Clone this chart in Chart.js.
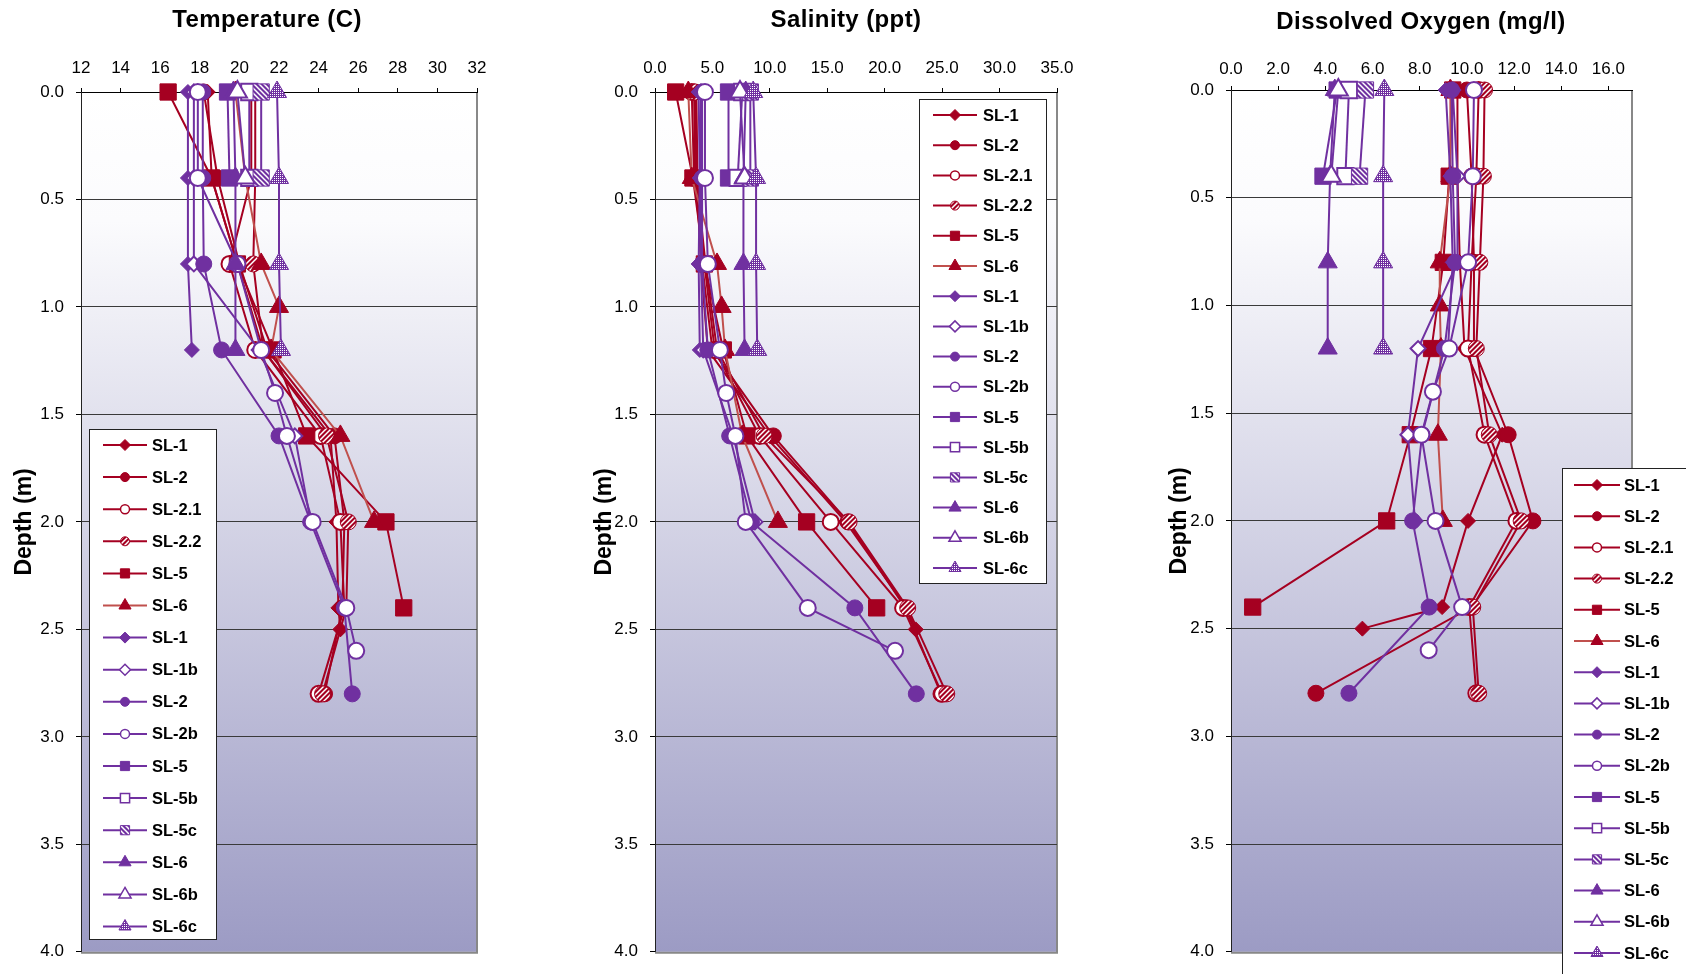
<!DOCTYPE html>
<html><head><meta charset="utf-8">
<script src="https://cdn.jsdelivr.net/npm/chart.js"></script>
<style>
html,body{margin:0;padding:0;background:#fff;width:1686px;height:974px;overflow:hidden}
canvas{position:absolute;top:0}
</style></head><body>
<canvas id="c1" width="560" height="974" style="left:0px"></canvas>
<canvas id="c2" width="560" height="974" style="left:580px"></canvas>
<canvas id="c3" width="531" height="974" style="left:1155px"></canvas>
<script>
// ---------- DATA ----------
const SERIES_LABELS = ['SL-1','SL-2','SL-2.1','SL-2.2','SL-5','SL-6','SL-1','SL-1b','SL-2','SL-2b','SL-5','SL-5b','SL-5c','SL-6','SL-6b','SL-6c'];
const Y_TICKS = [0,0.5,1,1.5,2,2.5,3,3.5,4];

// depths (m) per series
const DEPTH_R_SL1  = [0,0.4,0.8,1.2,1.6,2.0,2.4,2.5];
const DEPTH_R_SL2  = [0,0.4,0.8,1.2,1.6,2.0,2.4,2.8];
const DEPTH_R_SL21 = [0,0.4,0.8,1.2,1.6,2.0,2.4,2.8];
const DEPTH_R_SL22 = [0,0.4,0.8,1.2,1.6,2.0,2.4,2.8];
const DEPTH_R_SL5  = [0,0.4,0.8,1.2,1.6,2.0,2.4];
const DEPTH_R_SL6  = [0,0.4,0.8,1.0,1.2,1.6,2.0];
const DEPTH_P_SL1  = [0,0.4,0.8,1.2];
const DEPTH_P_SL1b = [0,0.4,0.8,1.2,1.6,2.0];
const DEPTH_P_SL2  = [0,0.4,0.8,1.2,1.6,2.0,2.4,2.8];
const DEPTH_P_SL2b = [0,0.4,0.8,1.2,1.4,1.6,2.0,2.4,2.6];
const DEPTH_P_SL5  = [0,0.4];
const DEPTH_P_SL5b = [0,0.4];
const DEPTH_P_SL5c = [0,0.4];
const DEPTH_P_SL6  = [0,0.4,0.8,1.2];
const DEPTH_P_SL6b = [0,0.4];
const DEPTH_P_SL6c = [0,0.4,0.8,1.2];

// Temperature (C)
const TEMP_R_SL1  = [18.4,18.6,19.9,21.2,24.6,24.9,25.0,25.1];
const TEMP_R_SL2  = [18.2,18.9,20.0,21.4,24.8,25.3,25.2,24.3];
const TEMP_R_SL21 = [20.6,20.6,19.5,20.8,24.1,25.1,25.3,24.0];
const TEMP_R_SL22 = [20.8,20.8,20.7,21.2,24.4,25.5,25.4,24.2];
const TEMP_R_SL5  = [16.4,18.6,19.9,21.7,23.4,27.4,28.3];
const TEMP_R_SL6  = [19.8,20.3,21.1,22.0,21.6,25.1,26.8];
const TEMP_P_SL1  = [17.4,17.4,17.4,17.6];
const TEMP_P_SL1b = [17.7,17.7,17.7,21.0,22.8,23.6];
const TEMP_P_SL2  = [18.15,18.15,18.2,19.1,22.0,23.6,25.3,25.7];
const TEMP_P_SL2b = [17.9,17.9,19.9,21.1,21.8,22.4,23.7,25.4,25.9];
const TEMP_P_SL5  = [19.4,19.5];
const TEMP_P_SL5b = [20.5,20.5];
const TEMP_P_SL5c = [21.1,21.1];
const TEMP_P_SL6  = [19.7,19.8,19.8,19.8];
const TEMP_P_SL6b = [19.9,20.3];
const TEMP_P_SL6c = [21.9,22.0,22.0,22.1];

// Salinity (ppt)
const SAL_R_SL1  = [3.6,3.7,4.0,4.6,10.0,16.6,21.9,22.7];
const SAL_R_SL2  = [3.4,3.5,4.1,5.0,10.3,16.8,21.8,24.9];
const SAL_R_SL21 = [3.2,3.4,4.3,5.2,9.1,15.3,21.6,25.0];
const SAL_R_SL22 = [3.5,3.6,4.4,5.4,9.5,16.9,22.0,25.4];
const SAL_R_SL5  = [1.8,3.3,4.3,5.95,8.0,13.2,19.3];
const SAL_R_SL6  = [2.9,3.2,5.4,5.8,6.1,7.6,10.7];
const SAL_P_SL1  = [3.8,3.9,3.8,3.9];
const SAL_P_SL1b = [4.0,4.0,4.0,4.2,6.8,8.7];
const SAL_P_SL2  = [4.1,4.1,4.1,4.6,6.5,8.4,17.4,22.75];
const SAL_P_SL2b = [4.35,4.35,4.6,5.65,6.2,7.0,7.9,13.3,20.9];
const SAL_P_SL5  = [6.4,6.4];
const SAL_P_SL5b = [7.6,7.2];
const SAL_P_SL5c = [8.3,8.3];
const SAL_P_SL6  = [7.9,7.7,7.7,7.8];
const SAL_P_SL6b = [7.4,7.8];
const SAL_P_SL6c = [8.55,8.8,8.8,8.9];

// Dissolved Oxygen (mg/l)
const DO_R_SL1  = [9.6,9.6,9.7,9.9,11.5,10.05,8.95,5.57];
const DO_R_SL2  = [10.0,10.2,10.3,10.3,11.75,12.8,10.2,3.6];
const DO_R_SL21 = [10.5,10.4,10.2,10.05,10.75,12.1,10.1,10.4];
const DO_R_SL22 = [10.75,10.7,10.55,10.4,10.95,12.3,10.25,10.5];
const DO_R_SL5  = [9.4,9.25,9.0,8.5,7.6,6.6,0.92];
const DO_R_SL6  = [9.3,9.3,8.85,8.85,8.9,8.77,8.98];
const DO_P_SL1  = [9.1,9.3,9.4,9.2];
const DO_P_SL1b = [9.4,9.6,9.6,7.93,7.5,7.8];
const DO_P_SL2  = [9.35,9.4,9.5,9.05,8.1,7.7,8.4,5.0];
const DO_P_SL2b = [10.3,10.25,10.05,9.25,8.56,8.07,8.67,9.8,8.38];
const DO_P_SL5  = [4.5,3.9];
const DO_P_SL5b = [5.0,4.85];
const DO_P_SL5c = [5.7,5.45];
const DO_P_SL6  = [4.4,4.2,4.1,4.1];
const DO_P_SL6b = [4.55,4.25];
const DO_P_SL6c = [6.5,6.45,6.45,6.45];

const DEPTHS = [DEPTH_R_SL1,DEPTH_R_SL2,DEPTH_R_SL21,DEPTH_R_SL22,DEPTH_R_SL5,DEPTH_R_SL6,DEPTH_P_SL1,DEPTH_P_SL1b,DEPTH_P_SL2,DEPTH_P_SL2b,DEPTH_P_SL5,DEPTH_P_SL5b,DEPTH_P_SL5c,DEPTH_P_SL6,DEPTH_P_SL6b,DEPTH_P_SL6c];
const TEMPS = [TEMP_R_SL1,TEMP_R_SL2,TEMP_R_SL21,TEMP_R_SL22,TEMP_R_SL5,TEMP_R_SL6,TEMP_P_SL1,TEMP_P_SL1b,TEMP_P_SL2,TEMP_P_SL2b,TEMP_P_SL5,TEMP_P_SL5b,TEMP_P_SL5c,TEMP_P_SL6,TEMP_P_SL6b,TEMP_P_SL6c];
const SALS = [SAL_R_SL1,SAL_R_SL2,SAL_R_SL21,SAL_R_SL22,SAL_R_SL5,SAL_R_SL6,SAL_P_SL1,SAL_P_SL1b,SAL_P_SL2,SAL_P_SL2b,SAL_P_SL5,SAL_P_SL5b,SAL_P_SL5c,SAL_P_SL6,SAL_P_SL6b,SAL_P_SL6c];
const DOS = [DO_R_SL1,DO_R_SL2,DO_R_SL21,DO_R_SL22,DO_R_SL5,DO_R_SL6,DO_P_SL1,DO_P_SL1b,DO_P_SL2,DO_P_SL2b,DO_P_SL5,DO_P_SL5b,DO_P_SL5c,DO_P_SL6,DO_P_SL6b,DO_P_SL6c];

// ---------- STYLE ----------
const RED = '#A50021', RED_LIGHT = '#C0504D', PURPLE = '#7030A0';
// [color, lineColor, shape, fill]  fill: solid | open | stripeA | stripeB | dots
const STYLES = [
  [RED,RED,'rectRot','solid'],[RED,RED,'circle','solid'],[RED,RED,'circle','open'],[RED,RED,'circle','stripeA'],
  [RED,RED,'rect','solid'],[RED,RED_LIGHT,'triangle','solid'],
  [PURPLE,PURPLE,'rectRot','solid'],[PURPLE,PURPLE,'rectRot','open'],[PURPLE,PURPLE,'circle','solid'],[PURPLE,PURPLE,'circle','open'],
  [PURPLE,PURPLE,'rect','solid'],[PURPLE,PURPLE,'rect','open'],[PURPLE,PURPLE,'rect','stripeB'],
  [PURPLE,PURPLE,'triangle','solid'],[PURPLE,PURPLE,'triangle','open'],[PURPLE,PURPLE,'triangle','dots']
];
const RADIUS = {circle:8, rectRot:7.5, rect:11.5, triangle:11};
const LEG_RADIUS = {circle:4.5, rectRot:5.5, rect:6.5, triangle:7};
const FONT = '"Liberation Sans", Arial, sans-serif';

function makePattern(ctx, color, kind){
  const s = kind === 'dots' ? 4 : 5;
  const c = document.createElement('canvas'); c.width = s; c.height = s;
  const g = c.getContext('2d');
  g.fillStyle = color; g.fillRect(0,0,s,s);
  g.strokeStyle = '#fff'; g.fillStyle = '#fff'; g.lineWidth = 1.5;
  if (kind === 'stripeA') {
    g.beginPath(); g.moveTo(-1,1); g.lineTo(1,-1); g.moveTo(0,s); g.lineTo(s,0); g.moveTo(s-1,s+1); g.lineTo(s+1,s-1); g.stroke();
  } else if (kind === 'stripeB') {
    g.beginPath(); g.moveTo(0,0); g.lineTo(s,s); g.moveTo(-1,s-1); g.lineTo(1,s+1); g.moveTo(s-1,-1); g.lineTo(s+1,1); g.stroke();
  } else {
    g.fillRect(0,0,1,1); g.fillRect(2,2,1,1); g.fillRect(2,0,1,1); g.fillRect(0,2,1,1);
  }
  return ctx.createPattern(c,'repeat');
}
function fillFor(ctx, st){
  if (st[3] === 'solid') return st[0];
  if (st[3] === 'open') return '#ffffff';
  return makePattern(ctx, st[0], st[3]);
}

function drawMarker(ctx, shape, x, y, r){
  ctx.beginPath();
  if (shape === 'circle') ctx.arc(x, y, r, 0, Math.PI*2);
  else if (shape === 'rect') { const s = r*Math.SQRT1_2; ctx.rect(x-s, y-s, 2*s, 2*s); }
  else if (shape === 'rectRot') { ctx.moveTo(x-r,y); ctx.lineTo(x,y-r); ctx.lineTo(x+r,y); ctx.lineTo(x,y+r); ctx.closePath(); }
  else { const a = 2*Math.PI/3; ctx.moveTo(x, y-r); ctx.lineTo(x+Math.sin(a)*r, y-Math.cos(a)*r); ctx.lineTo(x+Math.sin(2*a)*r, y-Math.cos(2*a)*r); ctx.closePath(); }
}

const decorPlugin = {
  id: 'decor',
  beforeDraw(chart){
    const {ctx, chartArea:a} = chart;
    const g = ctx.createLinearGradient(0, a.top, 0, a.bottom);
    g.addColorStop(0, '#ffffff'); g.addColorStop(0.15, '#fbfbfd'); g.addColorStop(1, '#9C9BC4');
    ctx.save();
    ctx.fillStyle = g; ctx.fillRect(a.left, a.top, a.right-a.left, a.bottom-a.top);
    ctx.strokeStyle = '#888888'; ctx.lineWidth = 2;
    ctx.beginPath(); ctx.moveTo(a.right, a.top); ctx.lineTo(a.right, a.bottom+1); ctx.lineTo(a.left, a.bottom+1); ctx.stroke();
    ctx.restore();
  },
  afterDraw(chart, args, opts){
    const ctx = chart.ctx;
    ctx.save();
    // title
    ctx.font = 'bold 24px ' + FONT; ctx.fillStyle = '#000'; ctx.textAlign = 'center'; ctx.textBaseline = 'middle';
    if ('letterSpacing' in ctx) ctx.letterSpacing = '0.4px';
    ctx.fillText(opts.title, opts.titleX, opts.titleY);
    if ('letterSpacing' in ctx) ctx.letterSpacing = '0px';
    // legend
    const L = opts.legend;
    ctx.fillStyle = '#fff'; ctx.fillRect(L.x, L.y, L.w, L.h);
    ctx.strokeStyle = '#222'; ctx.lineWidth = 1; ctx.strokeRect(L.x+0.5, L.y+0.5, L.w, L.h);
    chart.data.datasets.forEach((ds, i) => {
      const y = L.first + i*L.step;
      const st = STYLES[i];
      ctx.strokeStyle = st[1]; ctx.lineWidth = 2;
      ctx.beginPath(); ctx.moveTo(L.lx0, y); ctx.lineTo(L.lx1, y); ctx.stroke();
      drawMarker(ctx, st[2], (L.lx0+L.lx1)/2, y, LEG_RADIUS[st[2]]);
      ctx.fillStyle = ds.pointBackgroundColor; ctx.fill();
      ctx.strokeStyle = st[0]; ctx.lineWidth = st[3]==='open' ? 1.5 : 1; ctx.stroke();
      ctx.fillStyle = '#000'; ctx.font = 'bold 16.5px ' + FONT; ctx.textAlign = 'left'; ctx.textBaseline = 'middle';
      ctx.fillText(SERIES_LABELS[i], L.tx, y + 1);
    });
    ctx.restore();
  }
};

function buildDatasets(ctx, values){
  return values.map((vals, i) => {
    const st = STYLES[i];
    return {
      label: SERIES_LABELS[i],
      data: vals.map((v, k) => ({x: v, y: DEPTHS[i][k]})),
      showLine: true,
      borderColor: st[1], backgroundColor: st[1], borderWidth: 2,
      pointStyle: st[2], pointRadius: RADIUS[st[2]], pointHoverRadius: RADIUS[st[2]],
      pointBackgroundColor: fillFor(ctx, st), pointBorderColor: st[0],
      pointBorderWidth: st[3] === 'open' ? 2 : 1,
      clip: false, order: 16 - i, tension: 0
    };
  });
}

function makeChart(id, values, cfg){
  const canvas = document.getElementById(id);
  const ctx = canvas.getContext('2d');
  return new Chart(ctx, {
    type: 'scatter',
    data: { datasets: buildDatasets(ctx, values) },
    plugins: [decorPlugin],
    options: {
      responsive: false, animation: false, devicePixelRatio: 1,
      layout: { padding: cfg.padding },
      plugins: { legend: {display: false}, tooltip: {enabled: false}, decor: cfg.decor },
      scales: {
        x: {
          type: 'linear', position: 'top', min: cfg.xMin, max: cfg.xMax, bounds: 'data',
          afterBuildTicks: s => { s.ticks = s.ticks.filter(t => t.value >= cfg.xMin - 1e-9 && t.value <= cfg.xLabelMax + 1e-9); },
          afterFit: s => { s.height = cfg.xHeight; },
          ticks: { stepSize: cfg.xStep, includeBounds: false, autoSkip: false, maxRotation: 0, color: '#000', padding: cfg.xPad,
                   font: {family: FONT, size: 17}, callback: v => cfg.xFmt(v) },
          grid: { drawOnChartArea: false, drawTicks: true, tickLength: 4, tickColor: '#000', color: '#000' },
          border: { display: true, color: '#000', width: 1 }
        },
        y: {
          type: 'linear', position: 'left', reverse: true, min: Y_TICKS[0], max: Y_TICKS[Y_TICKS.length-1],
          afterFit: s => { s.width = cfg.yWidth; },
          ticks: { stepSize: 0.5, color: '#000', padding: 12, font: {family: FONT, size: 17}, callback: v => Number(v).toFixed(1) },
          grid: { color: c => (c.tick && c.tick.value >= 4) ? 'rgba(0,0,0,0)' : '#3a3a3a', lineWidth: 1,
                  drawTicks: true, tickLength: 5, tickColor: '#000' },
          border: { display: true, color: '#222', width: 1 },
          title: { display: true, text: 'Depth (m)', color: '#000', font: {family: FONT, size: 23, weight: 'bold'}, padding: {top: 11, bottom: 0} }
        }
      }
    }
  });
}

makeChart('c1', TEMPS, {
  xMin: 12, xMax: 32, xLabelMax: 32, xStep: 2, xFmt: v => String(Math.round(v)), xPad: 9,
  xHeight: 92, yWidth: 81, padding: {left: 0, right: 83, top: 0, bottom: 21},
  decor: { title: 'Temperature (C)', titleX: 267, titleY: 20,
           legend: {x: 89, y: 429, w: 127, h: 510, first: 445, step: 32.1, lx0: 103, lx1: 147, tx: 152} }
});
makeChart('c2', SALS, {
  xMin: 0, xMax: 35, xLabelMax: 35, xStep: 5, xFmt: v => Number(v).toFixed(1), xPad: 9,
  xHeight: 92, yWidth: 75, padding: {left: 0, right: 83, top: 0, bottom: 20},
  decor: { title: 'Salinity (ppt)', titleX: 266, titleY: 20,
           legend: {x: 339, y: 99, w: 127, h: 484, first: 115, step: 30.2, lx0: 353, lx1: 397, tx: 403} }
});
makeChart('c3', DOS, {
  xMin: 0, xMax: 17, xLabelMax: 16, xStep: 2, xFmt: v => Number(v).toFixed(1), xPad: 6,
  xHeight: 90, yWidth: 76, padding: {left: 0, right: 54, top: 0, bottom: 16},
  decor: { title: 'Dissolved Oxygen (mg/l)', titleX: 266, titleY: 22,
           legend: {x: 407, y: 468, w: 200, h: 520, first: 485, step: 31.2, lx0: 419, lx1: 465, tx: 469} }
});
</script>
</body></html>
